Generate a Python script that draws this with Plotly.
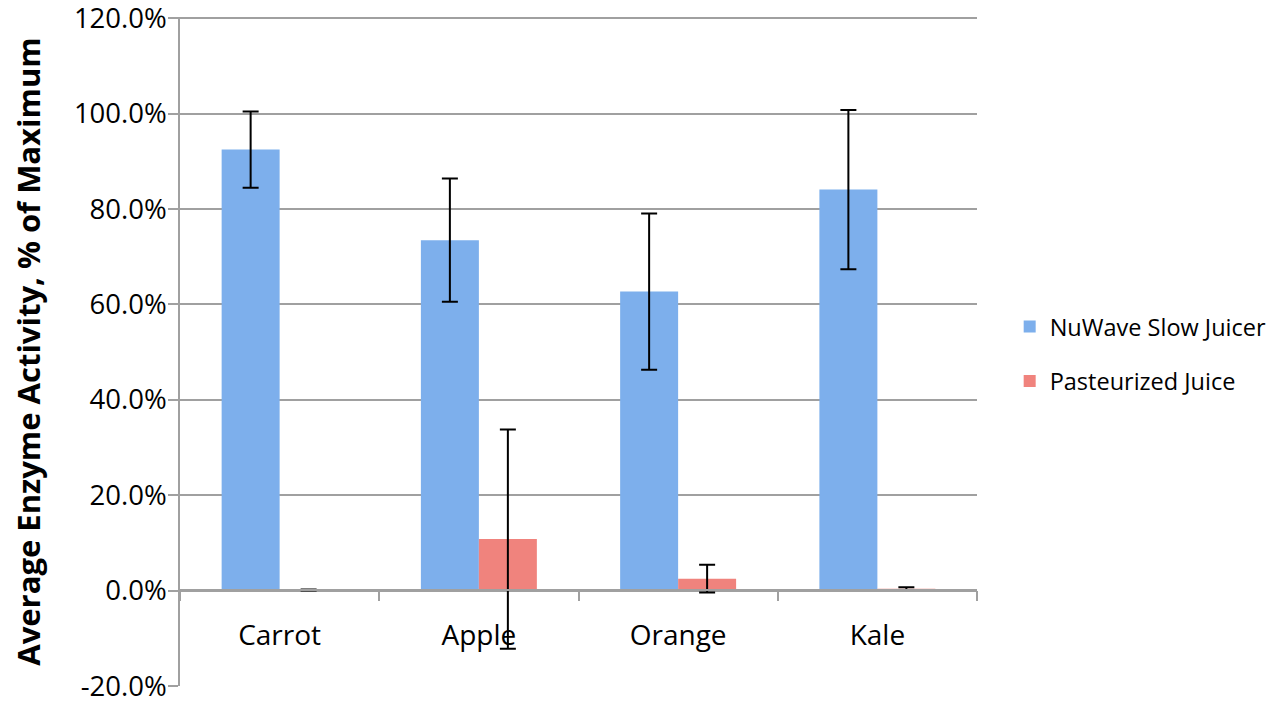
import plotly.graph_objects as go

categories = ["Carrot", "Apple", "Orange", "Kale"]
nuwave_vals = [92.5, 73.5, 62.7, 84.1]
nuwave_err = [8.0, 12.9, 16.4, 16.7]
past_vals = [0.1, 10.8, 2.5, 0.4]
past_err = [0.1, 23.0, 2.9, 0.3]
y_ticks = [-20, 0, 20, 40, 60, 80, 100, 120]

FONT = "Open Sans"

fig = go.Figure()
fig.add_trace(go.Bar(
    x=categories, y=nuwave_vals, name="NuWave Slow Juicer",
    marker=dict(color="#7DAFEC", line=dict(width=0)),
    error_y=dict(type="data", array=nuwave_err, visible=True,
                 color="black", thickness=2, width=8),
    legendgroup="a",
))
fig.add_trace(go.Bar(
    x=categories, y=past_vals, name="Pasteurized Juice",
    marker=dict(color="#F0837D", line=dict(width=0)),
    error_y=dict(type="data", array=past_err, visible=True,
                 color="black", thickness=2, width=8),
    legendgroup="b",
))

fig.update_layout(
    width=1281, height=706,
    margin=dict(l=180, r=304, t=17, b=20, autoexpand=False),
    paper_bgcolor="white", plot_bgcolor="white",
    barmode="group", bargap=0.418, bargroupgap=0,
    font=dict(family=FONT, color="black"),
    legend=dict(
        x=1.041, xanchor="left", y=0.496, yanchor="middle",
        font=dict(size=23.5, family=FONT), tracegroupgap=21,
        bgcolor="rgba(0,0,0,0)",
    ),
    showlegend=True,
)

fig.update_yaxes(
    range=[-20.02, 120.3], tickvals=y_ticks,
    ticktext=[f"{v:.1f}%" for v in y_ticks],
    showgrid=True, gridcolor="#A0A0A0", gridwidth=1.5,
    zeroline=False, automargin=False,
    showline=True, linecolor="#A0A0A0", linewidth=1.5,
    ticks="outside", ticklen=10, tickcolor="#A0A0A0", tickwidth=1.5,
    tickfont=dict(size=27.5, family=FONT),
    ticklabelstandoff=-4, ticklabeloverflow="allow",
    title=dict(text="<b>Average Enzyme Activity, % of Maximum</b>",
               font=dict(size=31, family=FONT), standoff=24),
)
fig.update_xaxes(
    anchor="free", position=1/7, automargin=False,
    showline=True, linecolor="#A0A0A0", linewidth=1.5,
    ticks="outside", ticklen=10, tickcolor="#A0A0A0", tickwidth=1.5,
    tickson="boundaries", showgrid=False,
    tickfont=dict(size=28, family=FONT),
    ticklabelstandoff=20,
)

fig.write_html("out.html", config={"displayModeBar": False},
               post_script="document.body.style.margin='0';")
